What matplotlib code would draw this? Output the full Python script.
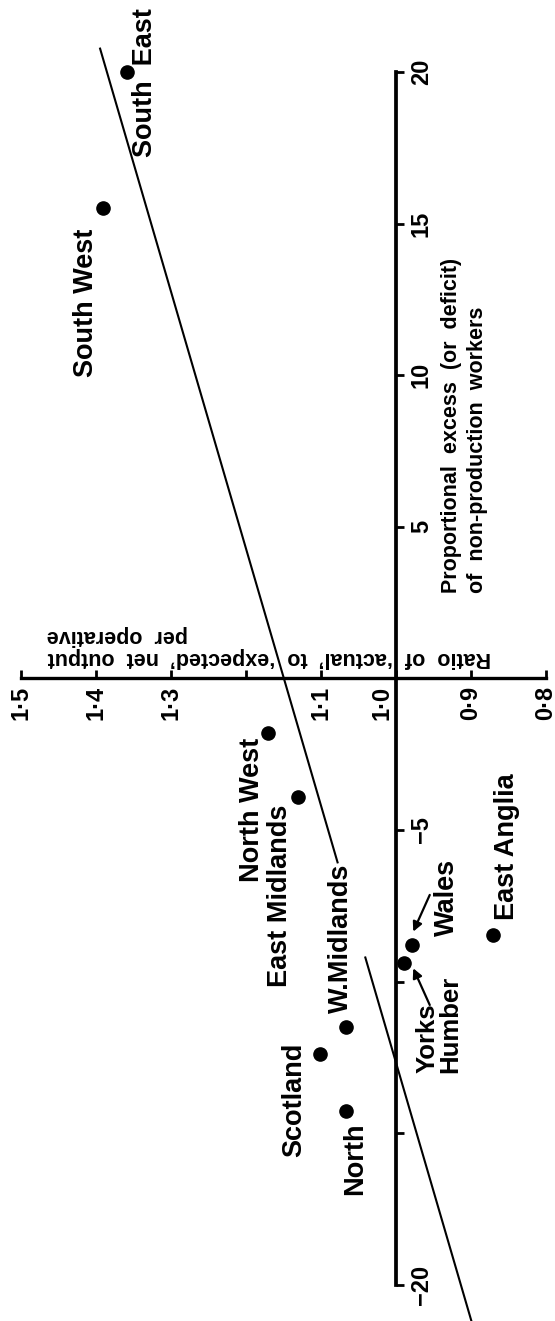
import matplotlib
matplotlib.use("Agg")
import matplotlib.pyplot as plt
from matplotlib.transforms import ScaledTranslation

plt.rcParams["font.family"] = ["Liberation Sans", "DejaVu Sans"]
plt.rcParams["font.weight"] = "bold"

# Regional observations: excess (or deficit) of non-production workers (%)
# against ratio of actual to expected net output per operative
regions = ["South  East", "South West", "North West", "East Midlands", "W.Midlands",
           "Scotland", "North", "Wales", "Yorks\nHumber", "East Anglia"]
excess = [20.0, 15.5, -1.8, -3.9, -11.5, -12.4, -14.25, -8.8, -9.4, -8.45]
ratio = [1.359, 1.390, 1.170, 1.130, 1.066, 1.101, 1.066, 0.978, 0.989, 0.871]

# where each region's name sits (ratio, excess at the start of the text)
label_ratio = [1.335, 1.413, 1.192, 1.154, 1.074, 1.135, 1.054, 0.932, 0.943, 0.852]
label_excess = [17.2, 9.95, -6.7, -10.16, -11.03, -15.77, -17.03, -8.51, -13.01, -7.96]

# fitted relationship, broken where the W.Midlands name crosses it
fit_intercept = 1.1495
fit_slope = 0.0118
fit_segments = [(20.8, -6.1), (-9.17, -22.5)]

ratio_ticks = [1.5, 1.4, 1.3, 1.2, 1.1, 1.0, 0.9, 0.8]
ratio_tick_labels = ["1·5", "1·4", "1·3", "", "1·1", "1·0", "0·9", "0·8"]
excess_ticks = [-20, -15, -10, -5, 0, 5, 10, 15, 20]
excess_tick_labels = ["−20", "", "", "−5", "", "5", "10", "15", "20"]

fig = plt.figure(figsize=(5.55, 13.21), dpi=100)
ax = fig.add_axes([0, 0, 1, 1])
ax.set_xlim(1.528, 0.788)
ax.set_ylim(-21.19, 22.37)

for side in ("top", "left"):
    ax.spines[side].set_visible(False)
ax.spines["bottom"].set_position(("data", 0))
ax.spines["bottom"].set_bounds(min(ratio_ticks), max(ratio_ticks))
ax.spines["bottom"].set_linewidth(2.4)
ax.spines["right"].set_position(("data", 1.0))
ax.spines["right"].set_bounds(min(excess_ticks), max(excess_ticks))
ax.spines["right"].set_linewidth(2.7)

ax.xaxis.set_ticks_position("bottom")
ax.yaxis.set_ticks_position("right")
ax.set_xticks(ratio_ticks, ratio_tick_labels)
ax.set_yticks(excess_ticks, excess_tick_labels)
ax.tick_params(axis="x", direction="in", length=6, width=2, pad=5.5,
               labelsize=17, labelrotation=90)
ax.tick_params(axis="y", direction="out", length=6, width=2, pad=4,
               labelsize=17, labelrotation=90)
for lab in ax.get_yticklabels():
    lab.set_va("center")

# the 1·0 label sits beside the upright axis rather than on it
idx = ratio_ticks.index(1.0)
lab = ax.get_xticklabels()[idx]
lab.set_transform(lab.get_transform() + ScaledTranslation(-0.14, 0, fig.dpi_scale_trans))

# fitted line
for e0, e1 in fit_segments:
    ax.plot([fit_intercept + fit_slope * e0, fit_intercept + fit_slope * e1], [e0, e1],
            color="black", lw=1.5, solid_capstyle="butt", zorder=2)

# regions
ax.plot(ratio, excess, "o", color="black", ms=9.5, zorder=3)
for name, lr, le in zip(regions, label_ratio, label_excess):
    ax.text(lr, le, name, rotation=90, rotation_mode="anchor", ha="left",
            va="center", fontsize=19.5 if "\n" not in name else 18.5,
            linespacing=0.95, fontweight="bold")

# pointers to Wales and Yorks/Humber
arrow_style = dict(arrowstyle="-|>", color="black", lw=1.6, mutation_scale=14,
                   shrinkA=0, shrinkB=0)
ax.annotate("", xy=(0.977, -8.35), xytext=(0.955, -7.14), arrowprops=arrow_style)
ax.annotate("", xy=(0.977, -9.56), xytext=(0.955, -10.77), arrowprops=arrow_style)

# axis titles
ax.text(1.465, 0.68, "Ratio  of  ‘actual’  to  ‘expected’  net  output",
        rotation=180, rotation_mode="anchor", ha="right", va="center", fontsize=15.5)
ax.text(1.465, 1.43, "per  operative",
        rotation=180, rotation_mode="anchor", ha="right", va="center", fontsize=15.5)
ax.text(0.926, 2.82, "Proportional  excess  (or  deficit)",
        rotation=90, rotation_mode="anchor", ha="left", va="center", fontsize=15.5)
ax.text(0.8907, 2.82, "of  non-production  workers",
        rotation=90, rotation_mode="anchor", ha="left", va="center", fontsize=15.5)

fig.savefig("out.png", dpi=100)
